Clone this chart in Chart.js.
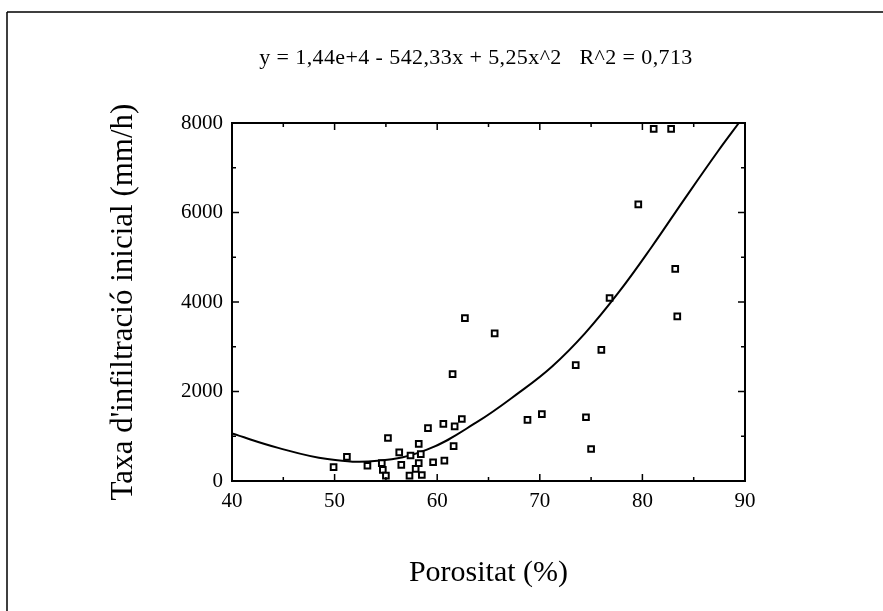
<!DOCTYPE html>
<html>
<head>
<meta charset="utf-8">
<script src="https://cdn.jsdelivr.net/npm/chart.js@4.4.0/dist/chart.umd.min.js"></script>
<style>
  html, body { margin: 0; padding: 0; background: #fff; }
  #wrap { width: 883px; height: 611px; }
</style>
</head>
<body>
<div id="wrap"><canvas id="myChart" width="883" height="611"></canvas></div>
<script>
// punts mesurats (llegits del gràfic)
var porositat = [49.9, 51.2, 53.2, 55.2, 54.6, 54.7, 55.0, 56.3, 56.5, 57.4, 58.2, 58.4, 58.2, 57.9, 57.3, 58.5,
  59.1, 59.6, 60.7, 60.6, 61.7, 62.4, 61.6, 61.5, 62.7, 65.6, 68.8, 70.2, 73.5, 74.5, 75.0, 76.0, 76.8,
  79.6, 81.1, 82.8, 83.2, 83.4];
var taxa = [310, 540, 340, 960, 400, 250, 120, 640, 360, 570, 830, 600, 400, 270, 120, 135,
  1180, 420, 455, 1275, 1220, 1385, 780, 2390, 3640, 3300, 1365, 1495, 2590, 1425, 715, 2930, 4090,
  6180, 7870, 7870, 4740, 3680];

// corba d'ajust (llegida del gràfic)
var corbaX = [40, 44.5, 49.3, 54.2, 59.0, 63.9, 68.0, 71.2, 74.4, 77.7, 80.9, 84.1, 87.4, 89.4];
var corbaY = [1060, 740, 490, 450, 700, 1320, 1980, 2560, 3300, 4220, 5230, 6300, 7380, 8000];

var xTicks = [40, 50, 60, 70, 80, 90];
var yTicks = [0, 2000, 4000, 6000, 8000];

var titol = "y = 1,44e+4 - 542,33x + 5,25x^2   R^2 = 0,713";
var titolX = "Porositat (%)";
var titolY = "Taxa d'infiltració inicial (mm/h)";

var serif = "'Liberation Serif', 'DejaVu Serif', serif";

function punts(xs, ys) {
  var d = [];
  for (let i = 0; i < xs.length; i++) {
    d.push({ x: xs[i], y: ys[i] });
  }
  return d;
}

// marc de la gràfica, marques internes, equació i vora de la pàgina
var marcPlugin = {
  id: 'marc',
  afterDraw: function (chart) {
    var c = chart.ctx;
    var a = chart.chartArea;
    var sx = chart.scales.x, sy = chart.scales.y;
    c.save();
    c.strokeStyle = '#000';
    c.lineWidth = 2;
    c.strokeRect(a.left, a.top, a.right - a.left, a.bottom - a.top);
    c.lineWidth = 1.5;
    c.beginPath();
    for (let v = 40; v <= 90; v += 5) {
      let px = sx.getPixelForValue(v);
      let len = (v % 10 === 0) ? 7 : 4;
      c.moveTo(px, a.bottom); c.lineTo(px, a.bottom - len);
      c.moveTo(px, a.top); c.lineTo(px, a.top + len);
    }
    for (let v = 0; v <= 8000; v += 1000) {
      let py = sy.getPixelForValue(v);
      let len = (v % 2000 === 0) ? 7 : 4;
      c.moveTo(a.left, py); c.lineTo(a.left + len, py);
      c.moveTo(a.right, py); c.lineTo(a.right - len, py);
    }
    c.stroke();
    // vora escanejada
    c.lineWidth = 1.5;
    c.beginPath();
    c.moveTo(7, 12); c.lineTo(883, 12);
    c.moveTo(7, 12); c.lineTo(7, 611);
    c.stroke();
    // equació de l'ajust
    c.fillStyle = '#000';
    c.font = '22px ' + serif;
    c.textAlign = 'center';
    c.textBaseline = 'alphabetic';
    if ('letterSpacing' in c) c.letterSpacing = '0.4px';
    c.fillText(titol, 476, 64);
    c.restore();
  }
};

var ctx = document.getElementById("myChart").getContext('2d');
var grafic = new Chart(ctx, {
  type: 'scatter',
  data: {
    datasets: [{
      label: 'Mesures',
      data: punts(porositat, taxa),
      pointStyle: 'rect',
      pointRadius: 4,
      pointHoverRadius: 4,
      pointBorderWidth: 2,
      borderColor: '#000',
      backgroundColor: '#fff'
    }, {
      type: 'line',
      label: 'Ajust',
      data: punts(corbaX, corbaY),
      showLine: true,
      fill: false,
      pointRadius: 0,
      borderColor: '#000',
      borderWidth: 2,
      tension: 0.4
    }]
  },
  options: {
    responsive: false,
    animation: false,
    layout: {
      padding: { left: 100, right: 138, top: 123, bottom: 20 }
    },
    plugins: {
      legend: { display: false },
      tooltip: { enabled: false },
      title: { display: false }
    },
    scales: {
      x: {
        type: 'linear',
        min: 40,
        max: 90,
        afterBuildTicks: function (scale) {
          scale.ticks = xTicks.map(v => ({ value: v }));
        },
        afterFit: function (scale) { scale.height = 110; },
        grid: { display: false, drawTicks: false },
        border: { display: true, color: '#000', width: 2 },
        ticks: {
          color: '#000',
          padding: 8,
          maxRotation: 0,
          font: { family: serif, size: 21 }
        },
        title: {
          display: true,
          text: titolX,
          color: '#000',
          font: { family: serif, size: 30 },
          padding: { top: 0, bottom: 0 }
        }
      },
      y: {
        type: 'linear',
        min: 0,
        max: 8000,
        afterBuildTicks: function (scale) {
          scale.ticks = yTicks.map(v => ({ value: v }));
        },
        afterFit: function (scale) { scale.width = 132; },
        grid: { display: false, drawTicks: false },
        border: { display: true, color: '#000', width: 2 },
        ticks: {
          color: '#000',
          padding: 9,
          font: { family: serif, size: 21 },
          callback: function (v) { return String(v); }
        },
        title: {
          display: true,
          text: titolY,
          color: '#000',
          font: { family: serif, size: 31 },
          padding: { top: 5, bottom: 0 }
        }
      }
    }
  },
  plugins: [marcPlugin]
});
</script>
</body>
</html>
